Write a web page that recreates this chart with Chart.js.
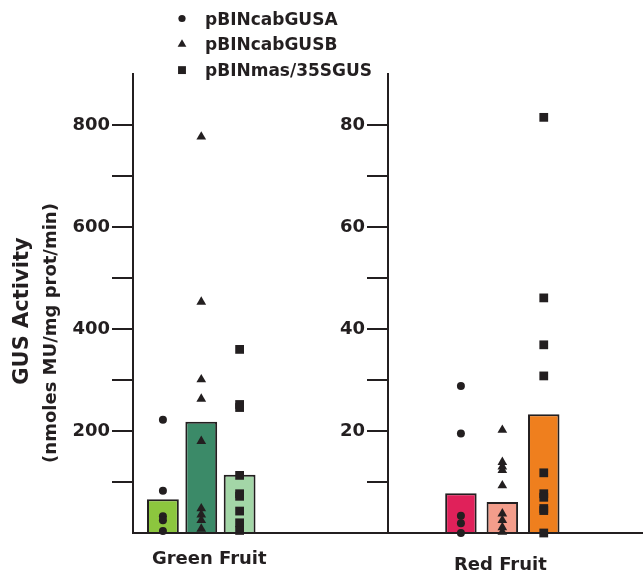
<!DOCTYPE html>
<html>
<head>
  <meta charset="UTF-8" />
  <title>GUS Activity</title>
  <script src="https://cdn.jsdelivr.net/npm/chart.js"></script>
  <style>
    body { margin: 0; background: #fff; }
    .wrap { position: relative; width: 643px; height: 573px; overflow: hidden; }
    #greenBox { position: absolute; left: 0; top: 0; width: 395px; height: 573px; }
    #redBox { position: absolute; left: 320px; top: 0; width: 329px; height: 573px; }
  </style>
</head>
<body>
  <div class="wrap">
    <div id="greenBox"><canvas id="greenChart"></canvas></div>
    <div id="redBox"><canvas id="redChart"></canvas></div>
  </div>

  <script>
    const constructs = ['pBINcabGUSA', 'pBINcabGUSB', 'pBINmas/35SGUS'];
    const stages = ['Green Fruit', 'Red Fruit'];
    const yTitle = ['GUS Activity', '(nmoles MU/mg prot/min)'];

    // bar = mean per construct
    const greenMeans = [66, 218, 114];
    const redMeans = [7.8, 6.1, 23.3];

    // individual transformants
    const greenA = [222, 83, 33, 25, 4];
    const greenB = [777, 453, 301, 263, 180, 48, 36, 25, 8];
    const greenC = [360, 252, 246, 113, 77, 72, 43, 20, 5];
    const redA = [28.8, 19.5, 3.4, 1.9, 0];
    const redB = [20.2, 13.9, 13, 12.3, 9.3, 3.8, 2.5, 1.1, 0.2];
    const redC = [81.5, 46.1, 36.9, 30.8, 11.8, 7.7, 7, 4.8, 4.4, 0];

    const greenTicks = [200, 400, 600, 800];
    const redTicks = [20, 40, 60, 80];

    const FONT = '"DejaVu Sans", sans-serif';
    const INK = '#231f20';
    const markers = ['circle', 'triangle', 'rect'];
    const markerSizes = [4, 5.6, 6.2];

    // legend drawn at the top of the left panel
    const legendPlugin = {
      id: 'topLegend',
      afterDraw(chart) {
        const ctx = chart.ctx;
        ctx.save();
        ctx.fillStyle = INK;
        ctx.font = `bold 17px ${FONT}`;
        ctx.textBaseline = 'alphabetic';
        chart.data.datasets.filter(d => d.type === 'scatter').forEach((d, i) => {
          const y = 24.5 + i * 25.8;
          Chart.helpers.drawPoint(ctx, { pointStyle: d.pointStyle, radius: d.pointRadius * 0.9, rotation: 0, borderWidth: 0 }, 182, y - 6);
          ctx.fillText(d.label, 205, y);
        });
        ctx.restore();
      }
    };

    const yTitlePlugin = {
      id: 'yTitle',
      afterDraw(chart) {
        const ctx = chart.ctx;
        ctx.save();
        ctx.fillStyle = INK;
        ctx.textAlign = 'center';
        ctx.textBaseline = 'alphabetic';
        ctx.translate(28, 311);
        ctx.rotate(-Math.PI / 2);
        ctx.font = `bold 21px ${FONT}`;
        ctx.fillText(yTitle[0], 0, 0);
        ctx.restore();
        ctx.save();
        ctx.fillStyle = INK;
        ctx.textAlign = 'center';
        ctx.translate(56, 333);
        ctx.rotate(-Math.PI / 2);
        ctx.font = `bold 18px ${FONT}`;
        ctx.fillText(yTitle[1], 0, 0);
        ctx.restore();
      }
    };

    const makePanel = (id, cfg) => {
      const datasets = cfg.points.map((vals, i) => ({
        type: 'scatter',
        label: constructs[i],
        data: vals.map(v => ({ x: i + 1, y: v })),
        pointStyle: markers[i],
        pointRadius: markerSizes[i],
        backgroundColor: INK,
        borderColor: INK,
        borderWidth: 0,
        clip: false,
        order: 1
      }));
      datasets.push({
        type: 'bar',
        label: cfg.stage,
        data: cfg.means.map((v, i) => ({ x: i + 1, y: v })),
        backgroundColor: cfg.colors,
        borderColor: INK,
        borderWidth: 2,
        barPercentage: cfg.barPct,
        categoryPercentage: 1,
        order: 2
      });

      return new Chart(document.getElementById(id), {
        type: 'bar',
        data: { datasets },
        options: {
          responsive: true,
          maintainAspectRatio: false,
          animation: false,
          layout: { padding: { top: 74, left: 0, right: 0, bottom: 0 } },
          plugins: { legend: { display: false }, tooltip: { enabled: false } },
          scales: {
            x: {
              type: 'linear',
              offset: false,
              min: cfg.xMin,
              max: cfg.xMax,
              grid: { display: false, drawTicks: false },
              border: { display: true, color: INK, width: 2 },
              ticks: {
                stepSize: 1,
                includeBounds: false,
                autoSkip: false,
                maxRotation: 0,
                padding: cfg.labelPad,
                labelOffset: cfg.labelShift,
                color: INK,
                font: { family: FONT, size: 18, weight: 'bold' },
                callback: v => v === 2 ? cfg.stage : ''
              },
              afterFit: s => { s.height = 40; }
            },
            y: {
              min: 0,
              max: cfg.yMax,
              grid: {
                drawOnChartArea: false,
                tickLength: 21,
                lineWidth: 2,
                tickColor: c => (c.tick && c.tick.value > 0 && c.tick.value < cfg.yMax) ? INK : 'rgba(0,0,0,0)'
              },
              border: { display: true, color: INK, width: 2 },
              ticks: {
                stepSize: cfg.yMax / 9,
                padding: 2,
                color: INK,
                font: { family: FONT, size: 18, weight: 'bold' },
                callback: v => cfg.ticks.includes(v) ? String(v) : ''
              },
              afterFit: s => { s.width = cfg.axisWidth; }
            }
          }
        },
        plugins: cfg.extra
      });
    };

    makePanel('greenChart', {
      stage: stages[0],
      means: greenMeans,
      points: [greenA, greenB, greenC],
      colors: ['#8cc63e', '#3b8a68', '#a3d6a7'],
      ticks: greenTicks,
      yMax: 900,
      xMin: 0.22,
      xMax: 6.89,
      barPct: 0.83,
      axisWidth: 133,
      labelPad: 16,
      labelShift: 8,
      extra: [legendPlugin, yTitlePlugin]
    });

    makePanel('redChart', {
      stage: stages[1],
      means: redMeans,
      points: [redA, redB, redC],
      colors: ['#e0215a', '#f39d8b', '#ef7f1e'],
      ticks: redTicks,
      yMax: 90,
      xMin: -0.76,
      xMax: 5.39,
      barPct: 0.76,
      axisWidth: 68,
      labelPad: 22,
      labelShift: -2,
      extra: []
    });
  </script>
</body>
</html>
